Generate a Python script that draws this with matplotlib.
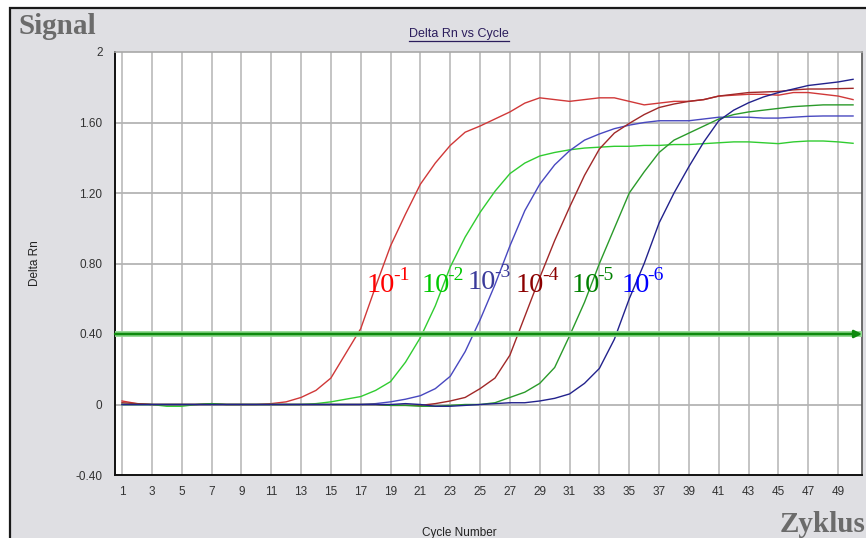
import numpy as np
import matplotlib
matplotlib.use("Agg")
import matplotlib.pyplot as plt
from matplotlib.patches import Rectangle
from matplotlib.lines import Line2D

plt.rcParams['font.family'] = ['Liberation Sans', 'DejaVu Sans']

# data, one value per cycle
cycles = list(range(1, 51))

dil_1 = [0.02, 0.005, 0.0, 0.0, 0.0, 0.0, 0.005, 0.0, 0.0, 0.0,
         0.005, 0.015, 0.04, 0.08, 0.15, 0.29, 0.43, 0.67, 0.90, 1.08,
         1.25, 1.37, 1.47, 1.545, 1.58, 1.62, 1.66, 1.71, 1.74, 1.73,
         1.72, 1.73, 1.74, 1.74, 1.72, 1.70, 1.71, 1.72, 1.72, 1.73,
         1.75, 1.755, 1.76, 1.76, 1.755, 1.77, 1.77, 1.76, 1.75, 1.73]

dil_2 = [0.0, 0.0, 0.0, -0.01, -0.01, 0.0, 0.0, 0.0, 0.0, 0.0,
         0.0, 0.0, 0.0, 0.005, 0.015, 0.03, 0.045, 0.08, 0.13, 0.24,
         0.38, 0.56, 0.78, 0.95, 1.09, 1.21, 1.31, 1.37, 1.41, 1.43,
         1.445, 1.455, 1.46, 1.465, 1.465, 1.47, 1.47, 1.475, 1.475, 1.48,
         1.485, 1.49, 1.49, 1.485, 1.48, 1.49, 1.495, 1.495, 1.49, 1.482]

dil_3 = [0.0, 0.0, 0.0, 0.0, 0.0, 0.0, 0.0, 0.0, 0.0, 0.0,
         0.0, 0.0, 0.0, 0.0, 0.0, 0.0, 0.0, 0.005, 0.015, 0.03,
         0.05, 0.09, 0.16, 0.30, 0.48, 0.68, 0.90, 1.10, 1.25, 1.36,
         1.44, 1.50, 1.535, 1.565, 1.585, 1.60, 1.61, 1.61, 1.61, 1.62,
         1.63, 1.63, 1.63, 1.625, 1.625, 1.63, 1.635, 1.637, 1.637, 1.637]

dil_4 = [0.01, 0.005, 0.0, 0.0, 0.0, 0.0, 0.0, 0.0, 0.0, 0.0,
         0.0, 0.0, 0.0, 0.0, 0.0, 0.0, 0.0, 0.0, -0.005, -0.005,
         -0.005, 0.005, 0.02, 0.04, 0.09, 0.15, 0.28, 0.50, 0.72, 0.93,
         1.12, 1.30, 1.45, 1.54, 1.595, 1.645, 1.685, 1.705, 1.72, 1.73,
         1.75, 1.76, 1.77, 1.773, 1.776, 1.785, 1.79, 1.79, 1.792, 1.794]

dil_5 = [0.0, 0.0, 0.0, 0.0, 0.0, 0.0, 0.005, 0.0, 0.0, 0.0,
         0.0, 0.0, 0.0, 0.0, 0.0, 0.0, 0.0, 0.0, -0.005, -0.005,
         -0.01, -0.01, -0.005, 0.0, 0.0, 0.01, 0.04, 0.07, 0.12, 0.21,
         0.39, 0.58, 0.80, 1.00, 1.20, 1.32, 1.43, 1.50, 1.54, 1.58,
         1.62, 1.645, 1.66, 1.67, 1.68, 1.69, 1.695, 1.70, 1.70, 1.70]

dil_6 = [0.0, 0.0, 0.0, 0.0, 0.0, 0.0, 0.0, 0.0, 0.0, 0.0,
         0.0, 0.0, 0.0, 0.0, 0.0, 0.0, 0.0, 0.0, 0.0, 0.005,
         0.0, -0.01, -0.01, -0.005, 0.0, 0.005, 0.01, 0.01, 0.02, 0.035,
         0.06, 0.12, 0.205, 0.37, 0.60, 0.80, 1.03, 1.20, 1.35, 1.49,
         1.61, 1.67, 1.712, 1.745, 1.77, 1.79, 1.81, 1.82, 1.83, 1.845]

series = [dil_1, dil_2, dil_3, dil_4, dil_5, dil_6]
exponents = ['-1', '-2', '-3', '-4', '-5', '-6']
line_colors = ['#d03838', '#30cc30', '#4848c0', '#a02828', '#2a9a2a', '#22228c']
label_colors = ['#ff0000', '#00c800', '#3a3a9a', '#8b0000', '#008000', '#0000ff']
# where each dilution label sits (cycle, delta rn)
label_x = [17.4, 21.05, 24.15, 27.4, 31.1, 34.45]
label_y = [0.64, 0.64, 0.655, 0.64, 0.64, 0.64]

threshold = 0.4
y_ticks = [-0.4, 0, 0.4, 0.8, 1.2, 1.6, 2]
y_tick_labels = ['-0.40', '0', '0.40', '0.80', '1.20', '1.60', '2']
x_ticks = list(range(1, 50, 2))

fig = plt.figure(figsize=(8.66, 5.38), dpi=100, facecolor='white')

# grey panel with the black top/left edge
W, H = 866, 538
panel = Rectangle((10 / W, -0.01), 1.0, 1 - 8 / H + 0.01, transform=fig.transFigure,
                  facecolor='#dfdfe3', edgecolor='#1a1a1a', lw=1.6, zorder=-10)
fig.patches.append(panel)

ax = fig.add_axes([115 / W, 1 - 475 / H, (862 - 115) / W, (475 - 52) / H])
ax.set_zorder(2)
ax.set_facecolor('white')
ax.set_xlim(0.53, 50.6)
ax.set_ylim(-0.4, 2)

ax.set_xticks(x_ticks)
ax.set_xticklabels([str(c) for c in x_ticks])
ax.set_yticks(y_ticks)
ax.set_yticklabels(y_tick_labels)
ax.tick_params(length=0, labelsize=8.5, colors='#333333', pad=8)
ax.tick_params(axis='y', pad=9)

# grid only on the inner ticks
for c in x_ticks:
    ax.axvline(c, color='#b4b4b4', lw=1.1, zorder=1)
for v in y_ticks[1:-1]:
    ax.axhline(v, color='#b4b4b4', lw=1.3, zorder=1)

for s in ['left', 'bottom']:
    ax.spines[s].set_color('#111111')
    ax.spines[s].set_linewidth(1.4)
ax.spines['top'].set_color('#a8a8a8')
ax.spines['top'].set_linewidth(1.2)
ax.spines['right'].set_color('#555555')
ax.spines['right'].set_linewidth(1.2)

# amplification curves
for vals, col in zip(series, line_colors):
    ax.plot(cycles, vals, color=col, lw=1.0, zorder=3)

# threshold line with arrow
ax.axhline(threshold, color='#8fd88f', lw=4.2, zorder=4)
ax.annotate('', xy=(50.6, threshold), xytext=(0.53, threshold),
            arrowprops=dict(arrowstyle='-|>', color='#0e8a0e', lw=1.8,
                            mutation_scale=11, shrinkA=0, shrinkB=0),
            zorder=5, annotation_clip=False)

# dilution labels: "10" plus a raised exponent with a plain hyphen
for ex, col, lx, ly in zip(exponents, label_colors, label_x, label_y):
    ax.text(lx, ly, '10', color=col, fontsize=20.5, family='Liberation Serif',
            ha='left', va='baseline', zorder=6)
    ax.annotate(ex, xy=(lx, ly), xytext=(19.0, 8.5), textcoords='offset points',
                color=col, fontsize=14, family='Liberation Serif',
                ha='left', va='baseline', zorder=6)

ax.set_ylabel('Delta Rn', fontsize=8.5, color='#222222', labelpad=0)
ax.yaxis.set_label_coords((41 - 115) / 747, 0.5)

fig.text(459 / W, 1 - 527 / H, 'Cycle Number', fontsize=8.5, color='#222222',
         ha='center', va='top')

title = fig.text(459 / W, 1 - 34 / H, 'Delta Rn vs Cycle', fontsize=9, color='#2b1d5c',
                 ha='center', va='center')

fig.text(18 / W, 1 - 27 / H, 'Signal', family='Liberation Serif', fontweight='bold',
         fontsize=21, color='#6b6b6b', ha='left', va='center')
fig.text(780 / W, 1 - 524 / H, 'Zyklus', family='Liberation Serif', fontweight='bold',
         fontsize=21, color='#6b6b6b', ha='left', va='center')

# underline the title
fig.canvas.draw()
bb = title.get_window_extent()
uy = (bb.y0 - 1) / H
fig.add_artist(Line2D([bb.x0 / W, bb.x1 / W], [uy, uy], transform=fig.transFigure,
                      color='#2b1d5c', lw=0.9))

fig.savefig('out.png', dpi=100, facecolor=fig.get_facecolor())
